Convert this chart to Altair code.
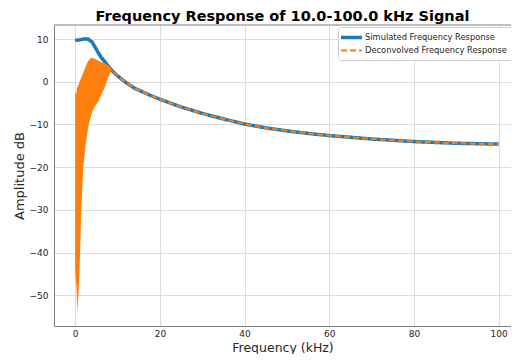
import altair as alt
import pandas as pd

# ---- data ----
series_names = ["Simulated Frequency Response", "Deconvolved Frequency Response"]
series_colors = ["#1f77b4", "#ff7f0e"]

sim_freq = [0, 1, 2, 3, 4, 5, 5.5, 6, 7, 8, 9, 10, 12, 14, 16, 18, 20, 25, 30, 35,
            40, 45, 50, 55, 60, 65, 70, 75, 80, 85, 90, 95, 100]
sim_db = [9.7, 9.8, 10.0, 10.0, 9.3, 7.6, 6.7, 5.9, 4.7, 3.4, 2.3, 1.4, -0.2, -1.5,
          -2.4, -3.3, -4.1, -5.9, -7.4, -8.7, -9.9, -10.8, -11.5, -12.1, -12.6,
          -13.0, -13.4, -13.7, -14.0, -14.2, -14.4, -14.5, -14.6]

dec_freq = [9, 10, 12, 14, 16, 18, 20, 25, 30, 35, 40, 45, 50, 55, 60, 65, 70, 75,
            80, 85, 90, 95, 100]
dec_db = [2.3, 1.4, -0.2, -1.5, -2.4, -3.3, -4.1, -5.9, -7.4, -8.7, -9.9, -10.8,
          -11.5, -12.1, -12.6, -13.0, -13.4, -13.7, -14.0, -14.2, -14.4, -14.5, -14.6]

# rapidly oscillating low-frequency part of the deconvolved response (envelopes)
band_freq = [0, 0.3, 0.38, 0.52, 0.85, 1.16, 1.45, 1.9, 2.5, 3.1, 3.9, 4.6, 5.5,
             6.2, 7.1, 7.5, 8.2, 8.6, 9.0]
band_upper = [-2.8, -2.7, -1.6, -1.3, -0.5, 0.3, 1.0, 2.1, 3.6, 4.9, 5.7, 5.4, 4.9,
              4.6, 4.3, 4.0, 3.5, 3.0, 2.4]
band_lower = [-44, -48, -50, -54.2, -48.5, -40, -30, -20, -14.5, -10.5, -7.3, -5.8,
              -4.6, -3.0, -1.0, 0.2, 2.0, 2.6, 2.3]

x_ticks = [0, 20, 40, 60, 80, 100]
y_ticks = [-50, -40, -30, -20, -10, 0, 10]

lines = pd.concat([
    pd.DataFrame({"freq": sim_freq, "db": sim_db, "series": series_names[0]}),
    pd.DataFrame({"freq": dec_freq, "db": dec_db, "series": series_names[1]}),
])
band = pd.DataFrame({"freq": band_freq, "upper": band_upper, "lower": band_lower})

W, H = 457, 301
FONT = "DejaVu Sans"

xscale = alt.Scale(domain=[-5, 102.9], nice=False, zero=False)
yscale = alt.Scale(domain=[-57.2, 13.3], nice=False, zero=False)

xaxis = alt.Axis(values=x_ticks, title="Frequency (kHz)", grid=True, ticks=False,
                 labelPadding=3, titleBaseline="alphabetic", titleY=25, format="d",
                 titleFontSize=12.5)
yaxis = alt.Axis(values=y_ticks, title="Amplitude dB", grid=True, ticks=False,
                 labelPadding=6, titlePadding=3, format="d")

legend = alt.Legend(orient="none", legendX=284, legendY=2, title=None,
                    symbolType="M-3,0H3", symbolSize=49,
                    labelFont=FONT, labelFontSize=8.3, labelColor="#262626",
                    fillColor="white", strokeColor="#cccccc", cornerRadius=3,
                    padding=5, rowPadding=0, symbolOffset=3, labelOffset=8)

color = alt.Color("series:N", scale=alt.Scale(domain=series_names, range=series_colors),
                  legend=legend)
dash = alt.StrokeDash("series:N", scale=alt.Scale(domain=series_names, range=[[1, 0], [6, 3]]),
                      legend=legend)
swidth = alt.StrokeWidth("series:N",
                         scale=alt.Scale(type="ordinal", domain=series_names, range=[3.5, 2]),
                         legend=legend)

base = alt.Chart(lines).encode(
    x=alt.X("freq:Q", scale=xscale, axis=xaxis),
    y=alt.Y("db:Q", scale=yscale, axis=yaxis),
    color=color, strokeDash=dash, strokeWidth=swidth,
)

sim_line = base.transform_filter(alt.datum.series == series_names[0]).mark_line(clip=True)
dec_line = base.transform_filter(alt.datum.series == series_names[1]).mark_line(clip=True)

band_area = alt.Chart(band).mark_area(color=series_colors[1], opacity=1).encode(
    x=alt.X("freq:Q", scale=xscale),
    y=alt.Y("lower:Q", scale=yscale),
    y2="upper:Q",
)

top_spine = alt.Chart(pd.DataFrame({"a": [0]})).mark_rule(color="#808080", strokeWidth=1).encode(
    x=alt.value(0), x2=alt.value(W), y=alt.value(0)
)

chart = alt.layer(sim_line, band_area, dec_line, top_spine).properties(
    width=W, height=H,
    title=alt.Title("Frequency Response of 10.0-100.0 kHz Signal", font=FONT,
                    fontSize=14.5, fontWeight="bold", color="black", offset=0),
    autosize=alt.AutoSizeParams(type="none"),
    padding={"left": 46, "top": 17, "right": 0, "bottom": 28},
).configure_view(stroke=None).configure_axis(
    labelFont=FONT, labelFontSize=9, labelColor="#262626",
    titleFont=FONT, titleFontSize=13, titleFontWeight="normal", titleColor="#262626",
    gridColor="#dcdcdc", gridWidth=1, domainColor="#808080", domainWidth=1,
)

chart.save("out.html", embed_options={"renderer": "svg", "actions": False})
